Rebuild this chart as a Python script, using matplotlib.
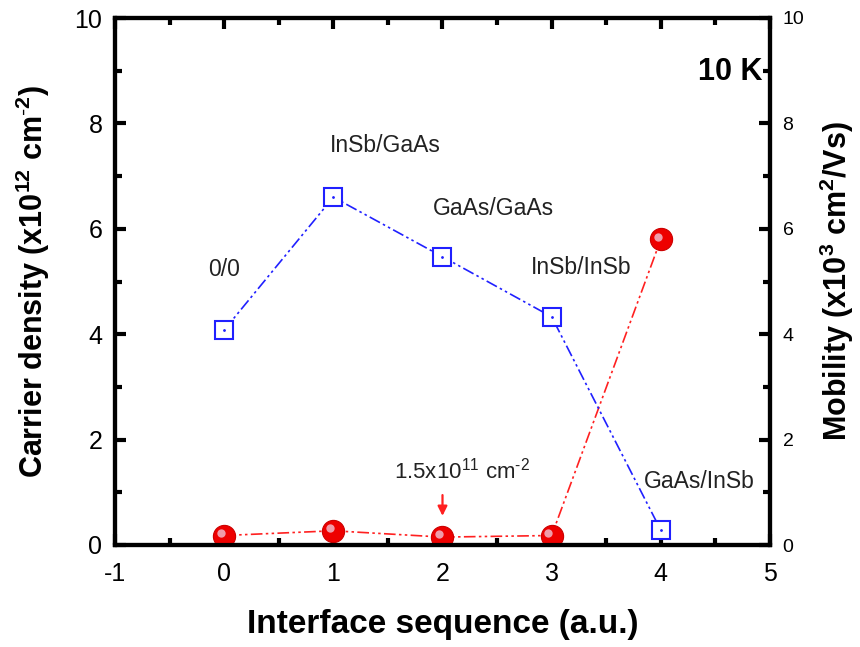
import matplotlib
matplotlib.use("Agg")
import matplotlib.pyplot as plt
from matplotlib.ticker import MultipleLocator

plt.rcParams['font.family'] = ['Liberation Sans', 'DejaVu Sans']
plt.rcParams['mathtext.fontset'] = 'custom'
plt.rcParams['mathtext.rm'] = 'Liberation Sans'
plt.rcParams['mathtext.bf'] = 'Liberation Sans:bold'
plt.rcParams['axes.unicode_minus'] = False

seq = [0, 1, 2, 3, 4]
density = [0.18, 0.27, 0.15, 0.18, 5.8]     # carrier density, x10^12 cm^-2
mobility = [4.08, 6.6, 5.47, 4.33, 0.28]    # mobility, x10^3 cm^2/Vs
labels = ['0/0', 'InSb/GaAs', 'GaAs/GaAs', 'InSb/InSb', 'GaAs/InSb']
label_pos = [(0.0, 5.22), (1.48, 7.59), (2.47, 6.38), (3.27, 5.26), (4.35, 1.2)]

fig = plt.figure(figsize=(8.6, 6.47), dpi=100)
ax = fig.add_axes([115/860, 1 - 545/647, 655/860, 527/647])
ax2 = ax.twinx()

dash = (0, (7, 2, 1.5, 2, 1.5, 2))
ax2.plot(seq, mobility, color='#2020ff', lw=1.2, ls=dash, zorder=2)
ax2.plot(seq, mobility, ls='none', marker='s', ms=13.5, mfc='white', mec='#2020ff', mew=1.5, zorder=3)
ax2.plot(seq, mobility, ls='none', marker='.', ms=2, color='#2020ff', zorder=4)

ax.plot(seq, density, color='#ff2020', lw=1.2, ls=dash, zorder=2)
ax.plot(seq, density, ls='none', marker='o', ms=16, mfc='#ee0000', mec='#cc0000', mew=0.8, zorder=3)
ax.plot([s - 0.03 for s in seq], [d + 0.05 for d in density], ls='none', marker='o', ms=6,
        mfc='#f0b8c8', mec='none', alpha=0.85, zorder=4)

for t, (x, y) in zip(labels, label_pos):
    ax.text(x, y, t, fontsize=16.5, ha='center', va='center', color='#222222')

ax.text(2.18, 1.42, r'1.5x10$^{11}$ cm$^{\text{-}2}$', fontsize=16, ha='center', va='center',
        color='#222222')
ax.annotate('', xy=(2.0, 0.5), xytext=(2.0, 1.0),
            arrowprops=dict(arrowstyle='-|>', color='#ff2020', lw=1.6, mutation_scale=14))
ax.text(4.64, 8.98, '10 K', fontsize=22, fontweight='bold', ha='center', va='center')

for a in (ax, ax2):
    a.set_xlim(-1, 5)
    a.set_ylim(0, 10)
    a.yaxis.set_major_locator(MultipleLocator(2))
    a.yaxis.set_minor_locator(MultipleLocator(1))
    for s in a.spines.values():
        s.set_linewidth(3)
ax.xaxis.set_major_locator(MultipleLocator(1))
ax.xaxis.set_minor_locator(MultipleLocator(0.5))

ax.tick_params(which='major', direction='in', length=8, width=3, labelsize=18, pad=9, top=True)
ax.tick_params(axis='x', which='major', pad=12)
ax.tick_params(which='minor', direction='in', length=5, width=3, top=True)
ax2.tick_params(which='major', direction='in', length=8, width=3, labelsize=14, pad=9)
ax2.tick_params(which='minor', direction='in', length=5, width=3)

ax.set_xlabel('Interface sequence (a.u.)', fontsize=24, fontweight='bold', labelpad=17)
ax.set_ylabel(r'Carrier density (x10$\mathbf{^{12}}$ cm$\mathbf{^{\text{-}2}}$)', fontsize=22,
              fontweight='bold', labelpad=16)
ax2.set_ylabel(r'Mobility (x10$\mathbf{^{3}}$ cm$\mathbf{^{2}}$/Vs)', fontsize=22,
               fontweight='bold', labelpad=10)

fig.savefig('out.png', dpi=100)
